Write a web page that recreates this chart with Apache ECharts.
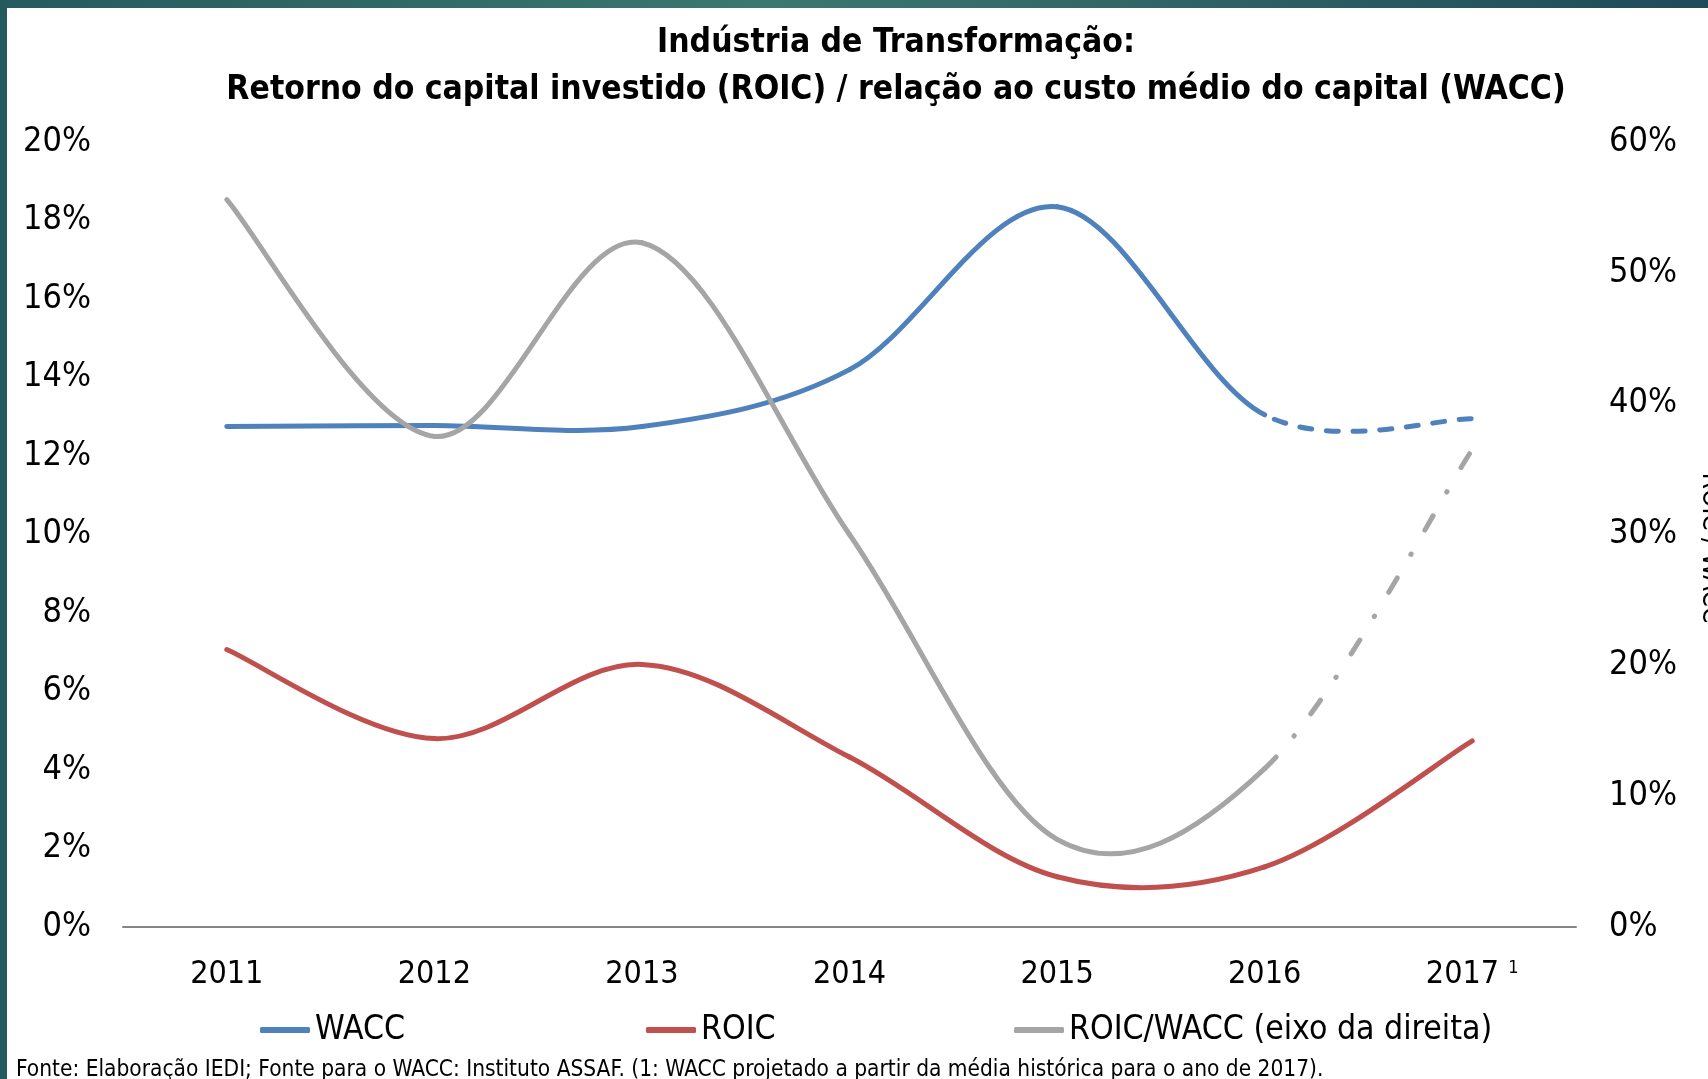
<!DOCTYPE html>
<html>
<head>
<meta charset="utf-8">
<title>ROIC x WACC</title>
<script src="https://cdn.jsdelivr.net/npm/echarts@6/dist/echarts.min.js"></script>
<style>
  html, body { margin: 0; padding: 0; background: #fff; }
  #chart { width: 1708px; height: 1079px; }
</style>
</head>
<body>
<div id="chart"></div>
<script>
// dados (em %)
const YEARS = ['2011', '2012', '2013', '2014', '2015', '2016', '2017']
const WACC = [12.75, 12.78, 12.75, 14.2, 18.35, 13.05, 12.95]
const ROIC = [7.07, 4.8, 6.69, 4.33, 1.28, 1.53, 4.74]
const ROIC_WACC = [55.6, 37.5, 52.3, 30.0, 6.7, 12.1, 36.5]
const LAST_ACTUAL = 5 // 2016: depois disso é projeção (tracejado)

const LEFT_MAX = 20, LEFT_STEP = 2
const RIGHT_MAX = 60, RIGHT_STEP = 10

const BLUE = '#4F81BD', RED = '#C0504D', GRAY = '#A5A5A5'
const FONT = "'Liberation Sans Narrow', 'DejaVu Sans Condensed', 'Liberation Sans', sans-serif"

const chart = echarts.init(document.getElementById('chart'))

// linha suavizada estilo Excel (Catmull-Rom), trecho projetado com outro traço
function curve(name, values, yAxisIndex, color, dash, dashOffset) {
  return {
    name, type: 'custom', coordinateSystem: 'cartesian2d', yAxisIndex,
    data: values.map((v, i) => [i, v]),
    encode: { x: 0, y: 1 },
    itemStyle: { color },
    silent: true,
    renderItem(params, api) {
      if (params.dataIndex !== 0) return null
      const p = values.map((v, i) => api.coord([i, v]))
      const n = p.length
      const children = []
      for (let i = 0; i < n - 1; i++) {
        const a = p[Math.max(i - 1, 0)], b = p[i], c = p[i + 1], d = p[Math.min(i + 2, n - 1)]
        const proj = dash && i >= LAST_ACTUAL
        children.push({
          type: 'bezierCurve',
          shape: {
            x1: b[0], y1: b[1], x2: c[0], y2: c[1],
            cpx1: b[0] + (c[0] - a[0]) / 6, cpy1: b[1] + (c[1] - a[1]) / 6,
            cpx2: c[0] - (d[0] - b[0]) / 6, cpy2: c[1] - (d[1] - b[1]) / 6
          },
          style: {
            stroke: color, fill: 'none', lineWidth: 5, lineCap: 'round', lineJoin: 'round',
            lineDash: proj ? dash : null, lineDashOffset: proj ? (dashOffset || 0) : 0
          }
        })
      }
      return { type: 'group', children }
    }
  }
}

function legendItem(left, name, color) {
  return {
    left, top: 1008, itemWidth: 50, itemHeight: 6, icon: 'roundRect', selectedMode: false,
    textStyle: { fontFamily: FONT, fontSize: 33.5, color: '#000' },
    data: [{ name, itemStyle: { color } }]
  }
}

const option = {
  animation: false,
  backgroundColor: '#fff',
  graphic: [
    { type: 'rect', x: 0, y: 0, shape: { width: 1708, height: 8 }, silent: true,
      style: { fill: new echarts.graphic.LinearGradient(0, 0, 1, 0, [
        { offset: 0, color: '#245b5e' }, { offset: 0.45, color: '#3b786f' }, { offset: 1, color: '#1f4a5a' }]) } },
    { type: 'rect', x: 0, y: 0, shape: { width: 7, height: 1079 }, silent: true, style: { fill: '#245a5d' } },
    // título do eixo da direita, cortado pela borda como no original
    { type: 'text', x: 1710, y: 548, rotation: -Math.PI / 2, silent: true,
      style: { text: 'ROIC / WACC', fontFamily: FONT, fontSize: 26, fill: '#000', align: 'center', verticalAlign: 'middle' } }
  ],
  title: [{
    text: 'Indústria de Transformação:\nRetorno do capital investido (ROIC) / relação ao custo médio do capital (WACC)',
    left: 891, top: 15, textAlign: 'center',
    textStyle: { fontFamily: FONT, fontSize: 33.4, fontWeight: 'bold', lineHeight: 47, color: '#000' }
  }, {
    text: 'Fonte: Elaboração IEDI; Fonte para o WACC: Instituto ASSAF. (1: WACC projetado a partir da média histórica para o ano de 2017).',
    left: 11, top: 1054,
    textStyle: { fontFamily: FONT, fontSize: 22.5, fontWeight: 'normal', color: '#000' }
  }],
  legend: [
    legendItem(255, 'WACC', BLUE),
    legendItem(641, 'ROIC', RED),
    legendItem(1009, 'ROIC/WACC (eixo da direita)', GRAY)
  ],
  grid: { left: 123, right: 132, top: 142, bottom: 152, outerBoundsMode: 'none' },
  xAxis: {
    type: 'category', data: YEARS, boundaryGap: true,
    axisLine: { lineStyle: { color: '#868686', width: 2 } },
    axisTick: { show: false },
    axisLabel: {
      interval: 0, fontFamily: FONT, fontSize: 32, color: '#000', margin: 32,
      formatter: v => v === '2017' ? '2017 {sup|1}' : v,
      rich: { sup: { fontFamily: FONT, fontSize: 18, color: '#000', verticalAlign: 'top', padding: [0, 0, 14, 0] } }
    }
  },
  yAxis: [{
    type: 'value', min: 0, max: LEFT_MAX, interval: LEFT_STEP,
    axisLine: { show: false }, axisTick: { show: false }, splitLine: { show: false },
    axisLabel: { fontFamily: FONT, fontSize: 34, color: '#000', margin: 32, formatter: '{value}%' }
  }, {
    type: 'value', min: 0, max: RIGHT_MAX, interval: RIGHT_STEP, position: 'right',
    axisLine: { show: false }, axisTick: { show: false }, splitLine: { show: false },
    axisLabel: { fontFamily: FONT, fontSize: 34, color: '#000', margin: 33, formatter: '{value}%' }
  }],
  series: [
    curve('WACC', WACC, 0, BLUE, [12, 14.7], 16),
    curve('ROIC', ROIC, 0, RED),
    curve('ROIC/WACC (eixo da direita)', ROIC_WACC, 1, GRAY, [16.5, 27.5, 0.5, 27.5])
  ]
}

chart.setOption(option)
</script>
</body>
</html>
